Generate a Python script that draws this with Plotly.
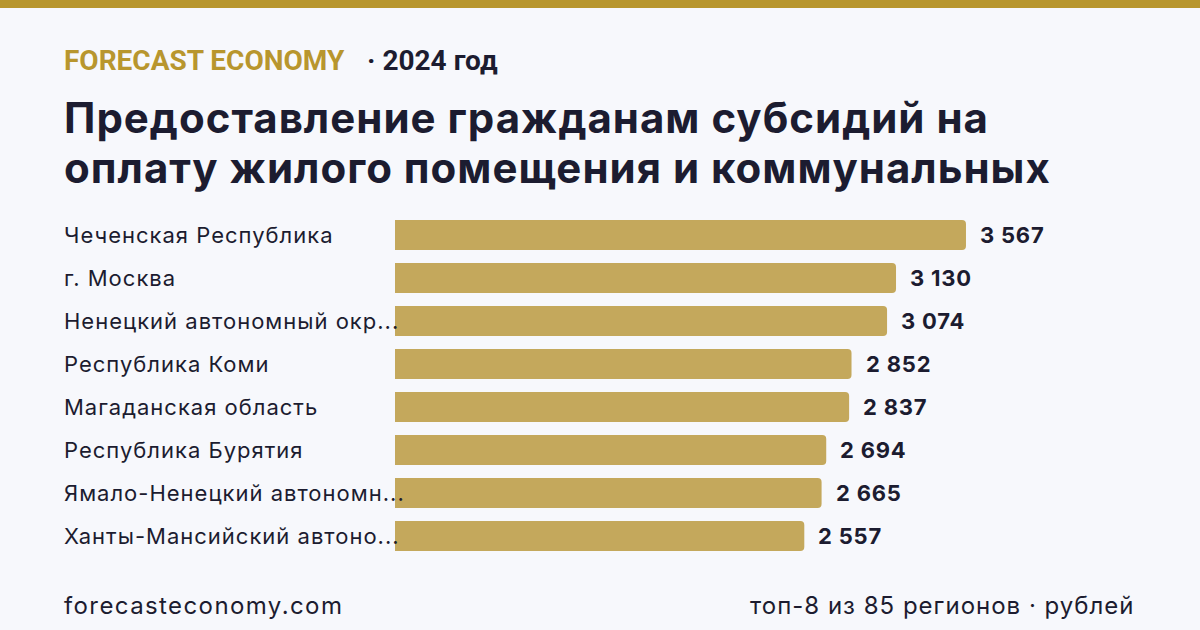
import plotly.graph_objects as go

regions = [
    "Чеченская Республика",
    "г. Москва",
    "Ненецкий автономный окр...",
    "Республика Коми",
    "Магаданская область",
    "Республика Бурятия",
    "Ямало-Ненецкий автономн...",
    "Ханты-Мансийский автоно...",
]
values = [3567, 3130, 3074, 2852, 2837, 2694, 2665, 2557]

W, H = 1200, 630
BG = "#f7f8fc"
GOLD = "#b8962e"
BAR = "#c4a85c"
DARK = "#1c1c30"
FONT = "Inter"

def fmt(v):
    return f"{v:,}".replace(",", " ")

def sp(text, ls):
    return f'<span style="letter-spacing:{ls}px">{text}</span>'

fig = go.Figure()
fig.add_trace(go.Bar(
    x=values, y=regions, orientation="h",
    marker=dict(color=BAR, cornerradius=4, line=dict(width=0)),
    width=0.7, hoverinfo="skip",
))

ann = []
for r, v in zip(regions, values):
    ann.append(dict(x=64 / W, xref="paper", y=r, yref="y", text=sp(r, 1.0), showarrow=False,
                    xanchor="left", yanchor="middle", xshift=-2,
                    font=dict(family=FONT, size=22, color=DARK)))
    ann.append(dict(x=v, xref="x", y=r, yref="y", text=f"<b>{sp(fmt(v), 0.8)}</b>", showarrow=False,
                    xanchor="left", yanchor="middle", xshift=12,
                    font=dict(family=FONT, size=22, color=DARK)))

def py(px):
    return 1 - px / H

ann += [
    dict(x=64 / W, y=py(60), xref="paper", yref="paper", text="<b>FORECAST ECONOMY</b>",
         showarrow=False, xanchor="left", yanchor="middle", xshift=-2,
         font=dict(family="Roboto", size=28, color=GOLD)),
    dict(x=365 / W, y=py(60), xref="paper", yref="paper", text="<b>· 2024 год</b>",
         showarrow=False, xanchor="left", yanchor="middle",
         font=dict(family="Roboto", size=28, color=DARK)),
    dict(x=64 / W, y=py(117), xref="paper", yref="paper",
         text="<b>" + sp("Предоставление гражданам субсидий на", 1.0) + "</b>",
         showarrow=False, xanchor="left", yanchor="middle", xshift=-2,
         font=dict(family=FONT, size=42, color=DARK)),
    dict(x=64 / W, y=py(168), xref="paper", yref="paper",
         text="<b>" + sp("оплату жилого помещения и коммунальных", 1.0) + "</b>",
         showarrow=False, xanchor="left", yanchor="middle", xshift=-2,
         font=dict(family=FONT, size=42, color=DARK)),
    dict(x=64 / W, y=py(605), xref="paper", yref="paper", text=sp("forecasteconomy.com", 1.4),
         showarrow=False, xanchor="left", yanchor="middle", xshift=-2,
         font=dict(family=FONT, size=24, color=DARK)),
    dict(x=1135 / W, y=py(605), xref="paper", yref="paper", text=sp("топ-8 из 85 регионов · рублей", 1.0),
         showarrow=False, xanchor="right", yanchor="middle", xshift=2,
         font=dict(family=FONT, size=24, color=DARK)),
]

fig.update_layout(
    width=W, height=H, margin=dict(l=0, r=0, t=0, b=0),
    paper_bgcolor=BG, plot_bgcolor=BG, showlegend=False,
    annotations=ann,
    shapes=[dict(type="rect", xref="paper", yref="paper", x0=0, x1=1, y0=py(8), y1=1,
                 fillcolor=GOLD, line=dict(width=0), layer="above")],
    xaxis=dict(domain=[395 / W, 1], range=[0, 5029], visible=False, fixedrange=True),
    yaxis=dict(domain=[py(557.5), py(213.5)], range=[7.5, -0.5], visible=False,
               categoryorder="array", categoryarray=regions, fixedrange=True),
    bargap=0.3,
)

fig.write_html("out.html", config={"displayModeBar": False})
